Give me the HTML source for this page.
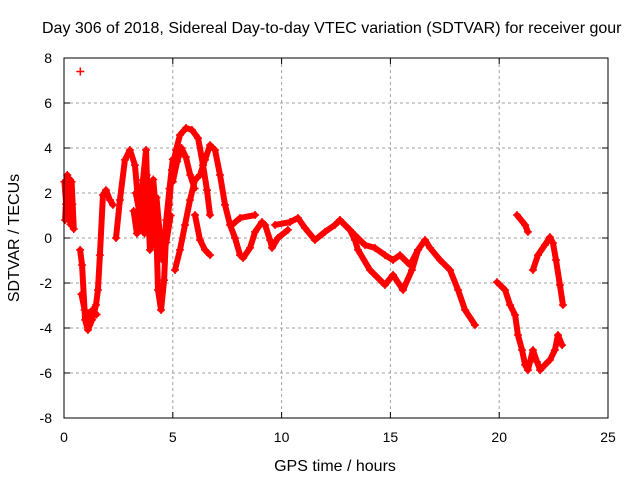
<!DOCTYPE html>
<html><head><meta charset="utf-8"><style>
body{margin:0;background:#fff;width:640px;height:480px;overflow:hidden}
svg text{font-family:"Liberation Sans",sans-serif;fill:#000}
</style></head><body>
<svg id="chart" width="640" height="480" xmlns="http://www.w3.org/2000/svg">
<text x="42" y="33" font-size="16">Day 306 of 2018, Sidereal Day-to-day VTEC variation (SDTVAR) for receiver gour</text>
<g id="grid"></g>
<g id="ticks"></g>
<g id="series"></g>
<rect x="64" y="58" width="544" height="360" fill="none" stroke="#000" stroke-width="1"/>
<text x="335" y="471" font-size="16" text-anchor="middle">GPS time / hours</text>
<text transform="translate(19,238) rotate(-90)" font-size="16" text-anchor="middle">SDTVAR / TECUs</text>
</svg>
<script>
const xTicks=[0,5,10,15,20,25];
const yTicks=[-8,-6,-4,-2,0,2,4,6,8];
const seg1H=[0.02,0.1,0.15,0.25,0.3,0.35,0.45];
const seg1V=[2.5,1.5,2.8,2.2,1.0,2.5,0.4];
const seg1bH=[0.05,0.12,0.2,0.28,0.38,0.3,0.2];
const seg1bV=[0.8,2.2,1.8,2.6,1.5,0.6,1.2];
const seg2H=[0.75];
const seg2V=[7.4];
const seg3H=[0.74,0.83,0.97,1.10,1.29,1.47,1.56,1.65,1.79,1.93,2.11,2.25];
const seg3V=[-0.53,-1.2,-3.64,-4.09,-3.64,-2.98,-2.31,-0.76,1.91,2.13,1.69,1.47];
const seg3bH=[0.8,0.95,1.1,1.3,1.5];
const seg3bV=[-2.5,-3.2,-3.5,-3.2,-3.4];
const seg4H=[2.39,2.57,2.8,3.03,3.26,3.4,3.49,3.63,3.77,3.86,3.95,4.09,4.23,4.32,4.46,4.6,4.69,4.83,4.96,5.15,5.33,5.61,5.88,6.16,6.39,6.57,6.71];
const seg4V=[0,1.69,3.47,3.91,3.24,1.69,0.36,2.58,3.91,1.24,-0.53,2.13,0.8,-2.31,-3.2,-1.87,0.13,1.47,3.02,3.91,4.58,4.89,4.8,4.44,3.24,2.13,1.02];
const seg4bH=[3.2,3.35,3.5,3.65,3.8,3.95,4.1,4.25,4.4,4.55,4.7,4.85,5.0];
const seg4bV=[1.2,0.2,1.5,0.5,2.8,1.0,-0.3,1.8,0.2,-1.0,0.8,2.2,3.5];
const seg4cH=[3.3,3.5,3.7,3.9,4.1,4.3,4.5,4.7,4.9];
const seg4cV=[2.0,1.0,0.2,1.6,2.6,0.4,-0.6,-0.2,1.0];
const seg5H=[5.1,5.33,5.56,5.79,6.02,6.25,6.48,6.71,6.94,7.17,7.4,7.63,7.86,8.09,8.23,8.55,8.78,9.1,9.24,9.47,9.56,9.83,10.29];
const seg5V=[-1.42,-0.53,0.58,1.69,2.58,2.8,3.47,4.13,3.91,2.8,1.47,0.58,0,-0.76,-0.89,-0.44,0.27,0.71,0.58,-0.09,-0.44,0,0.36];
const seg5bH=[5.0,5.2,5.4,5.6,5.8,6.0];
const seg5bV=[2.5,3.4,4.0,3.6,2.8,2.2];
const seg6H=[6.02,6.25,6.48,6.71];
const seg6V=[1.02,-0.09,-0.53,-0.76];
const seg7H=[7.72,8.09,8.78];
const seg7V=[0.58,0.89,1.02];
const seg8H=[9.7,10.39,10.75,11.08,11.53,11.99,12.45,12.68,13.14,13.37,13.51,14.06,14.75,15.12,15.58,15.99,16.27,16.59,16.82,17.28,17.74,18.11,18.43,18.89];
const seg8V=[0.58,0.71,0.89,0.44,-0.09,0.27,0.58,0.8,0.36,-0.09,-0.53,-1.42,-2.09,-1.64,-2.31,-1.42,-0.53,-0.09,-0.44,-0.98,-1.42,-2.31,-3.2,-3.87];
const seg9H=[12.68,13.37,13.83,14.29,14.75,15.12,15.44,15.9,16.27];
const seg9V=[0.8,0.13,-0.31,-0.44,-0.76,-0.98,-0.76,-1.2,-0.53];
const seg10H=[19.9,20.27,20.5,20.73,20.86,21.05,21.19,21.32,21.55,21.74,21.88,22.1,22.33,22.56,22.7,22.89];
const seg10V=[-1.96,-2.31,-2.98,-3.42,-4.31,-4.98,-5.64,-5.87,-4.98,-5.51,-5.87,-5.64,-5.42,-4.98,-4.31,-4.76];
const seg11H=[20.82,21.19,21.32];
const seg11V=[1.02,0.58,0.27];
const seg12H=[21.55,21.78,22.1,22.33,22.47,22.61,22.79,22.93];
const seg12V=[-1.42,-0.76,-0.31,0.04,-0.22,-0.98,-2.09,-2.98];
const segments=[[seg1H,seg1V],[seg1bH,seg1bV],[seg2H,seg2V],[seg3H,seg3V],[seg3bH,seg3bV],[seg4H,seg4V],[seg4bH,seg4bV],[seg4cH,seg4cV],[seg5H,seg5V],[seg5bH,seg5bV],[seg6H,seg6V],[seg7H,seg7V],[seg8H,seg8V],[seg9H,seg9V],[seg10H,seg10V],[seg11H,seg11V],[seg12H,seg12V]];

const NS="http://www.w3.org/2000/svg";
const X0=64,X1=608,Y0=418,Y1=58;
function xs(h){return X0+(h-0)/(25-0)*(X1-X0);}
function ys(v){return Y0-(v+8)/16*(Y0-Y1);}
function mk(tag,attrs,parent){const e=document.createElementNS(NS,tag);for(const k in attrs)e.setAttribute(k,attrs[k]);parent.appendChild(e);return e;}
const grid=document.getElementById('grid'),ticks=document.getElementById('ticks'),ser=document.getElementById('series');
xTicks.forEach(t=>{
  const x=xs(t);
  if(t>0&&t<25){const g=mk('line',{x1:x,x2:x,y1:Y1,y2:Y0,stroke:'#a0a0a0','stroke-dasharray':'3,3'},grid);
  
  }
  mk('line',{x1:x,x2:x,y1:Y0,y2:Y0-6,stroke:'#000'},ticks);
  mk('line',{x1:x,x2:x,y1:Y1,y2:Y1+6,stroke:'#000'},ticks);
  const tx=mk('text',{x:x,y:442,'font-size':'14','text-anchor':'middle'},ticks);
  tx.textContent=t;
  
  
});
yTicks.forEach(t=>{
  const y=ys(t);
  if(t>-8&&t<8){const g=mk('line',{x1:X0,x2:X1,y1:y,y2:y,stroke:'#a0a0a0','stroke-dasharray':'3,3'},grid);
  
  }
  mk('line',{x1:X0,x2:X0+6,y1:y,y2:y,stroke:'#000'},ticks);
  mk('line',{x1:X1,x2:X1-6,y1:y,y2:y,stroke:'#000'},ticks);
  const tx=mk('text',{x:52,y:y+5,'font-size':'14','text-anchor':'end'},ticks);
  tx.textContent=t;
  
  
});
segments.forEach(([H,V])=>{
  const pts=H.map((h,i)=>xs(h)+','+ys(V[i])).join(' ');
  if(H.length>1){const pl=mk('polyline',{points:pts,fill:'none',stroke:'#ff0000','stroke-width':'6','stroke-linejoin':'round','stroke-linecap':'round'},ser);
  
  }
  H.forEach((h,i)=>{
    const x=xs(h),y=ys(V[i]);
    const p=mk('path',{d:`M${x-4},${y}H${x+4}M${x},${y-4}V${y+4}`,stroke:'#ff0000','stroke-width':'1.5'},ser);
    
    
  });
});
</script>
</body></html>
